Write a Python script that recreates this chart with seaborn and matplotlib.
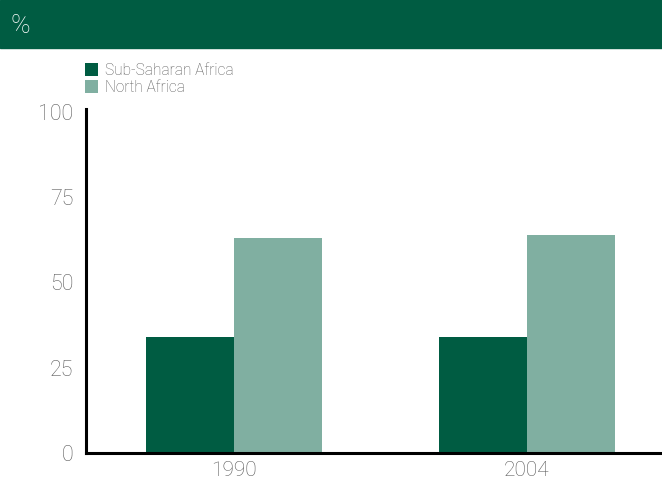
import numpy as np
import pandas as pd
import matplotlib
matplotlib.use("Agg")
import matplotlib.pyplot as plt
import seaborn as sns
from matplotlib.patches import Rectangle

# ── data ──────────────────────────────────────────────
years = ["1990", "2004"]
regions = ["Sub-Saharan Africa", "North Africa"]
sub_saharan = [34, 34]
north_africa = [63, 64]
y_ticks = [0, 25, 50, 75, 100]

dark_green = "#005C42"
light_green = "#80AFA1"
text_grey = "#5A5A5A"

df = pd.DataFrame({
    "year": years * 2,
    "region": [regions[0]] * len(years) + [regions[1]] * len(years),
    "value": sub_saharan + north_africa,
})

sns.set_style("white")
plt.rcParams["font.family"] = ["Roboto", "DejaVu Sans"]
plt.rcParams["font.weight"] = "light"

fig = plt.figure(figsize=(6.62, 4.84), dpi=100)
ax = fig.add_axes([86 / 662, 31 / 484, 1 - 86 / 662, (453 - 109) / 484])

sns.barplot(data=df, x="year", y="value", hue="region", order=years,
            hue_order=regions, palette=[dark_green, light_green],
            width=0.6, saturation=1, linewidth=0, ax=ax)

ax.set_ylim(0, 100 * (453 - 109) / 341)
ax.set_xlim((86 - 234) / 293, (662 - 234) / 293)
ax.set_yticks(y_ticks)
ax.set_yticklabels([str(t) for t in y_ticks])
ax.set_xlabel("")
ax.set_ylabel("")
ax.tick_params(axis="both", length=0, labelsize=15.5, colors=text_grey)
ax.tick_params(axis="y", pad=9)
ax.tick_params(axis="x", pad=6, labelsize=15)

for side in ["top", "right"]:
    ax.spines[side].set_visible(False)
for side in ["left", "bottom"]:
    ax.spines[side].set_linewidth(2.2)
    ax.spines[side].set_color("black")

# legend up in the top-left corner
sns.move_legend(ax, loc="upper left", bbox_to_anchor=(74 / 662, 1 - 52 / 484),
                bbox_transform=fig.transFigure, frameon=False, title=None,
                fontsize=11.2, handlelength=0.85, handleheight=0.95,
                handletextpad=0.45, labelspacing=0.12, borderpad=0.2)
for t in ax.get_legend().get_texts():
    t.set_color(text_grey)

# header band
fig.patches.append(Rectangle((0, 1 - 48 / 484), 1, 48 / 484,
                             transform=fig.transFigure, color=dark_green,
                             zorder=0))
fig.text(11 / 662, 1 - 26 / 484, "%", color="white", fontsize=19,
         va="center", ha="left")

fig.savefig("out.png", dpi=100)
